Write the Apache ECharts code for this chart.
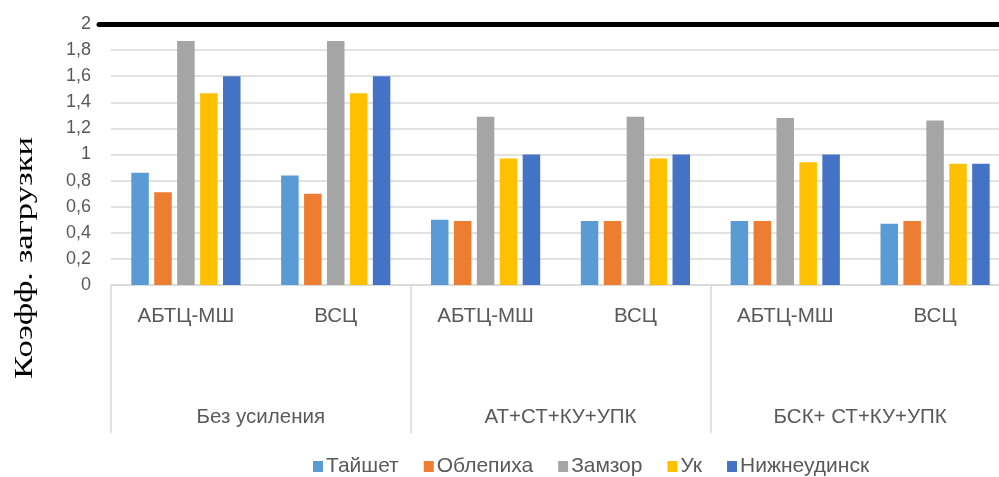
<!DOCTYPE html>
<html>
<head>
<meta charset="utf-8">
<script src="https://cdn.jsdelivr.net/npm/echarts@6/dist/echarts.min.js"></script>
<style>
  html, body { margin: 0; padding: 0; background: #fff; }
  #chart { width: 999px; height: 477px; }
</style>
</head>
<body>
<div id="chart"></div>
<script>
// Schemes (lower level) and reinforcement variants (upper level)
const schemes = ['АБТЦ-МШ', 'ВСЦ', 'АБТЦ-МШ', 'ВСЦ', 'АБТЦ-МШ', 'ВСЦ'];
const variants = ['Без усиления', 'АТ+СТ+КУ+УПК', 'БСК+ СТ+КУ+УПК'];

// Load factor per substation
const taishet     = [0.86, 0.84, 0.50, 0.49, 0.49, 0.47];
const oblepikha   = [0.71, 0.70, 0.49, 0.49, 0.49, 0.49];
const zamzor      = [1.87, 1.87, 1.29, 1.29, 1.28, 1.26];
const uk          = [1.47, 1.47, 0.97, 0.97, 0.94, 0.93];
const nizhneudinsk = [1.60, 1.60, 1.00, 1.00, 1.00, 0.93];

const seriesNames = ['Тайшет', 'Облепиха', 'Замзор', 'Ук', 'Нижнеудинск'];
const seriesColors = ['#5B9BD5', '#ED7D31', '#A5A5A5', '#FFC000', '#4472C4'];
const seriesValues = [taishet, oblepikha, zamzor, uk, nizhneudinsk];

const yTickLabels = ['0', '0,2', '0,4', '0,6', '0,8', '1', '1,2', '1,4', '1,6', '1,8', '2'];
const limitValue = 2;

const labelFont = '"Liberation Sans", Arial, sans-serif';
const textGrey = '#595959';
const gridGrey = '#D9D9D9';

const chart = echarts.init(document.getElementById('chart'), null, { renderer: 'canvas' });

const series = seriesNames.map((name, i) => {
  const s = {
    name: name,
    type: 'bar',
    xAxisIndex: 0,
    data: seriesValues[i],
    barWidth: 17.5,
    barGap: '31%',
    itemStyle: { color: seriesColors[i] },
    animation: false
  };
  if (i === 0) {
    // horizontal limit line at the permissible load factor
    s.markLine = {
      silent: true,
      symbol: ['none', 'none'],
      label: { show: false },
      lineStyle: { color: '#000', width: 5, type: 'solid', cap: 'round' },
      data: [{ yAxis: limitValue, x: 99 }],
      animation: false
    };
  }
  return s;
});

chart.setOption({
  animation: false,
  // the plot area runs a little past the right edge of the canvas
  grid: { left: 111, width: 899, top: 24, bottom: 192, containLabel: false, outerBoundsMode: 'none' },
  legend: {
    data: seriesNames,
    left: 308,
    top: 451,
    itemWidth: 10,
    itemHeight: 11,
    itemGap: 25,
    icon: 'rect',
    textStyle: { fontFamily: labelFont, fontSize: 21, color: textGrey, padding: [0, 0, 0, -2] }
  },
  xAxis: [
    {
      type: 'category',
      position: 'bottom',
      data: schemes,
      axisLine: { show: true, lineStyle: { color: gridGrey, width: 1.5 } },
      axisTick: { show: false },
      axisLabel: { margin: 21, fontFamily: labelFont, fontSize: 20.5, color: textGrey, interval: 0 }
    },
    {
      type: 'category',
      position: 'bottom',
      data: variants,
      axisLine: { show: false },
      axisTick: { show: true, length: 148, lineStyle: { color: gridGrey, width: 1.5 } },
      axisLabel: { margin: 122, fontFamily: labelFont, fontSize: 20.5, color: textGrey, interval: 0 },
      splitLine: { show: false }
    }
  ],
  yAxis: {
    type: 'value',
    min: 0,
    max: 2,
    interval: 0.2,
    axisLine: { show: false },
    axisTick: { show: false },
    axisLabel: {
      margin: 20,
      fontFamily: 'Liberation Sans, Arial, sans-serif',
      fontSize: 18,
      color: textGrey,
      formatter: (v, i) => yTickLabels[i]
    },
    splitLine: { lineStyle: { color: gridGrey, width: 1.5 } }
  },
  graphic: [
    {
      type: 'text',
      x: 25,
      y: 258,
      rotation: Math.PI / 2,
      scaleX: 1.33,
      style: {
        text: 'Коэфф. загрузки',
        fontFamily: '"Liberation Serif", "Times New Roman", serif',
        fontSize: 26,
        fill: '#000',
        align: 'center',
        verticalAlign: 'middle'
      }
    }
  ],
  series: series
});
</script>
</body>
</html>
